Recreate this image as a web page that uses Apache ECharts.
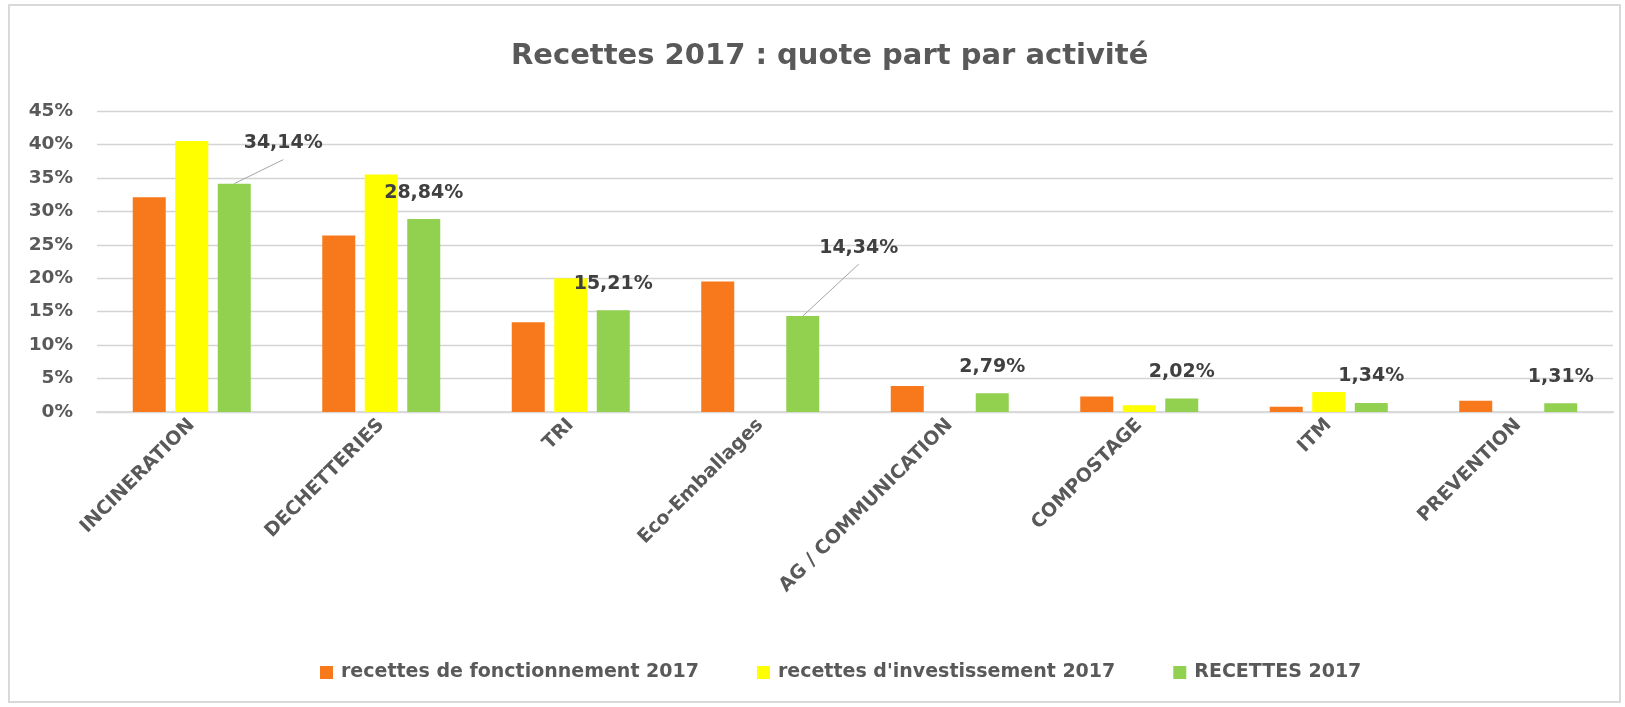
<!DOCTYPE html>
<html>
<head>
<meta charset="utf-8">
<script src="https://cdn.jsdelivr.net/npm/echarts@6/dist/echarts.min.js"></script>
<style>
  html, body { margin: 0; padding: 0; background: #fff; }
  #chart { width: 1625px; height: 707px; }
</style>
</head>
<body>
<div id="chart"></div>
<script>
// valeurs (en %)
var categories = ['INCINERATION', 'DECHETTERIES', 'TRI', 'Eco-Emballages',
    'AG / COMMUNICATION', 'COMPOSTAGE', 'ITM', 'PREVENTION'];
var fonctionnement = [32.1, 26.4, 13.4, 19.5, 3.9, 2.3, 0.8, 1.7];
var investissement = [40.5, 35.5, 20.0, null, null, 1.0, 3.0, null];
var recettes = [34.14, 28.84, 15.21, 14.34, 2.79, 2.02, 1.34, 1.31];
var yTicks = [0, 5, 10, 15, 20, 25, 30, 35, 40, 45];
var seriesNames = ['recettes de fonctionnement 2017', "recettes d'investissement 2017", 'RECETTES 2017'];

// etiquettes deplacees (avec trait de rappel), decalage en px
var labelOffsets = [[49, -14], null, null, [56, -42], null, null, null, null];

var BAR_W = 33;
var BAR_GAP = 9.5;
var FONT = 'DejaVu Sans';

function fmtPct(v) {
    return v.toFixed(2).replace('.', ',') + '%';
}

var dom = document.getElementById('chart');
var myChart = echarts.init(dom, null, {renderer: 'canvas'});

var option = {
    animation: false,
    backgroundColor: '#ffffff',
    title: {
        text: 'Recettes 2017 : quote part par activité',
        left: 506,
        top: 37,
        textStyle: {fontFamily: FONT, fontSize: 29, fontWeight: 'bold', color: '#595959'}
    },
    graphic: [{
        type: 'rect',
        shape: {x: 9, y: 5, width: 1611, height: 697},
        style: {fill: 'none', stroke: '#d9d9d9', lineWidth: 2},
        silent: true
    }],
    legend: {
        data: seriesNames,
        left: 315,
        top: 658,
        itemWidth: 13,
        itemHeight: 13,
        itemGap: 58,
        icon: 'rect',
        textStyle: {fontFamily: FONT, fontSize: 19, fontWeight: 'bold', color: '#595959', padding: [0, 0, 0, 3]}
    },
    grid: {left: 97, right: 12, top: 111, bottom: 295, containLabel: false},
    xAxis: {
        type: 'category',
        data: categories,
        axisLine: {lineStyle: {color: '#d9d9d9', width: 2}},
        axisTick: {show: false},
        axisLabel: {
            interval: 0,
            rotate: 45,
            margin: 10,
            fontFamily: FONT,
            fontSize: 19,
            fontWeight: 'bold',
            color: '#595959'
        }
    },
    yAxis: {
        type: 'value',
        min: yTicks[0],
        max: yTicks[yTicks.length - 1],
        interval: yTicks[1] - yTicks[0],
        axisLine: {show: false},
        axisTick: {show: false},
        splitLine: {lineStyle: {color: '#d4d4d4', width: 1.3}},
        axisLabel: {
            formatter: '{value}%',
            margin: 24,
            fontFamily: FONT,
            fontSize: 18.5,
            fontWeight: 'bold',
            color: '#595959'
        }
    },
    series: [
        {
            name: seriesNames[0],
            type: 'bar',
            barWidth: BAR_W,
            barGap: (BAR_GAP / BAR_W * 100) + '%',
            itemStyle: {color: '#f7791b'},
            data: fonctionnement
        },
        {
            name: seriesNames[1],
            type: 'bar',
            barWidth: BAR_W,
            barGap: (BAR_GAP / BAR_W * 100) + '%',
            itemStyle: {color: '#ffff00'},
            data: investissement
        },
        {
            name: seriesNames[2],
            type: 'bar',
            barWidth: BAR_W,
            barGap: (BAR_GAP / BAR_W * 100) + '%',
            itemStyle: {color: '#92d050'},
            label: {
                show: true,
                position: 'top',
                distance: 17,
                fontFamily: FONT,
                fontSize: 19,
                fontWeight: 'bold',
                color: '#404040',
                formatter: function (p) { return fmtPct(p.value); }
            },
            labelLayout: function (params) {
                var o = labelOffsets[params.dataIndex];
                return o ? {dx: o[0], dy: o[1]} : {};
            },
            data: recettes
        },
        {
            // traits de rappel des etiquettes deplacees
            type: 'custom',
            silent: true,
            z: 5,
            renderItem: function (params, api) {
                var o = labelOffsets[params.dataIndex];
                if (!o) return null;
                var p = api.coord([api.value(0), api.value(1)]);
                var x0 = p[0] + BAR_W + BAR_GAP;
                return {
                    type: 'line',
                    shape: {x1: x0, y1: p[1], x2: x0 + o[0], y2: p[1] + o[1] - 10},
                    style: {stroke: '#a6a6a6', lineWidth: 1}
                };
            },
            data: recettes.map(function (v, i) { return [i, v]; })
        }
    ]
};

myChart.setOption(option);
</script>
</body>
</html>
